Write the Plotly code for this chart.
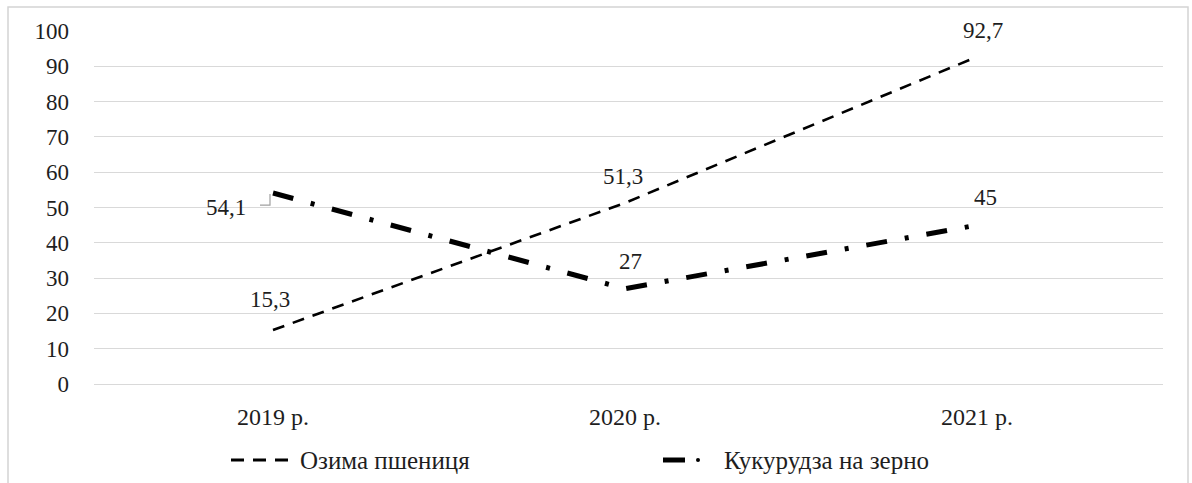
import plotly.graph_objects as go

# Categories and series
years = ["2019 р.", "2020 р.", "2021 р."]
wheat = [15.3, 51.3, 92.7]
corn = [54.1, 27, 45]
wheat_name = "Озима пшениця"
corn_name = "Кукурудза на зерно"
y_ticks = list(range(0, 101, 10))

xs = list(range(len(years)))
FONT = "Times New Roman, Liberation Serif, DejaVu Serif, serif"
TXT = "#1e1e1e"

# plot-area geometry in pixels (used to place legend/border in paper units)
L, R, T, B = 94, 29, 31, 99
W, H = 1192, 483
PW, PH = W - L - R, H - T - B


def px(x):
    return (x - L) / PW


def py(y):
    return (H - B - y) / PH


WHEAT_DASH = "12px,9px"
CORN_DASH = "21px,18px,4px,18px"

fig = go.Figure()
fig.add_trace(go.Scatter(
    x=xs, y=wheat, mode="lines", name=wheat_name, showlegend=False,
    line=dict(color="black", width=2.6, dash=WHEAT_DASH),
))
fig.add_trace(go.Scatter(
    x=xs, y=corn, mode="lines", name=corn_name, showlegend=False,
    line=dict(color="black", width=5, dash=CORN_DASH),
))


def fmt(v):
    return f"{v:g}".replace(".", ",")


# data label offsets in pixels (x shift, y shift)
wheat_shifts = [(-3, 30), (-2, 26), (6, 26)]
corn_shifts = [(-47, -14), (5, 27), (8, 28)]

for i, v in enumerate(wheat):
    dx, dy = wheat_shifts[i]
    fig.add_annotation(x=xs[i], y=v, text=fmt(v), showarrow=False,
                       xshift=dx, yshift=dy,
                       font=dict(family=FONT, size=23, color=TXT))
for i, v in enumerate(corn):
    dx, dy = corn_shifts[i]
    fig.add_annotation(x=xs[i], y=v, text=fmt(v), showarrow=False,
                       xshift=dx, yshift=dy,
                       font=dict(family=FONT, size=23, color=TXT))

# leader line for the first corn label
fig.add_shape(type="path", xref="x", yref="y",
              xsizemode="pixel", ysizemode="pixel",
              xanchor=xs[0], yanchor=corn[0],
              path="M -13 -12 L -3 -12 L -3 -1",
              line=dict(color="#a0a0a0", width=1.2))

# legend drawn below the plot
LY = 460
fig.add_shape(type="line", xref="paper", yref="paper",
              x0=px(231), x1=px(293), y0=py(LY), y1=py(LY),
              line=dict(color="black", width=3, dash="13px,9px"))
fig.add_annotation(xref="paper", yref="paper", x=px(298), y=py(LY),
                   text=wheat_name, showarrow=False, xanchor="left", yanchor="middle",
                   font=dict(family=FONT, size=25, color=TXT))
fig.add_shape(type="line", xref="paper", yref="paper",
              x0=px(663), x1=px(685), y0=py(LY), y1=py(LY),
              line=dict(color="black", width=5))
fig.add_shape(type="circle", xref="paper", yref="paper",
              x0=px(696), x1=px(700), y0=py(LY - 2), y1=py(LY + 2),
              line=dict(color="black", width=0), fillcolor="black")
fig.add_annotation(xref="paper", yref="paper", x=px(722), y=py(LY),
                   text=corn_name, showarrow=False, xanchor="left", yanchor="middle",
                   font=dict(family=FONT, size=25, color=TXT))

# outer chart border
fig.add_shape(type="rect", xref="paper", yref="paper",
              x0=px(8), x1=px(1188), y0=py(495), y1=py(7),
              line=dict(color="#d4d4d4", width=1.5), layer="below")

step = 352
fig.update_layout(
    width=W, height=H,
    margin=dict(l=L, r=R, t=T, b=B),
    paper_bgcolor="white", plot_bgcolor="white",
    font=dict(family=FONT, size=23, color=TXT),
    showlegend=False,
    xaxis=dict(range=[-(273 - L) / step, 2 + (1163 - 977) / step],
               tickvals=xs, ticktext=years, tickfont=dict(size=24),
               showgrid=False, zeroline=False, showline=False, ticks="",
               ticklabelstandoff=16, fixedrange=True),
    yaxis=dict(range=[0, 100], tickvals=y_ticks, showgrid=True, gridcolor="#d9d9d9",
               gridwidth=1.4, zeroline=True, zerolinecolor="#d9d9d9", zerolinewidth=1.4,
               showline=False, ticks="", ticklabelstandoff=24, fixedrange=True),
)

fig.write_html("out.html")
